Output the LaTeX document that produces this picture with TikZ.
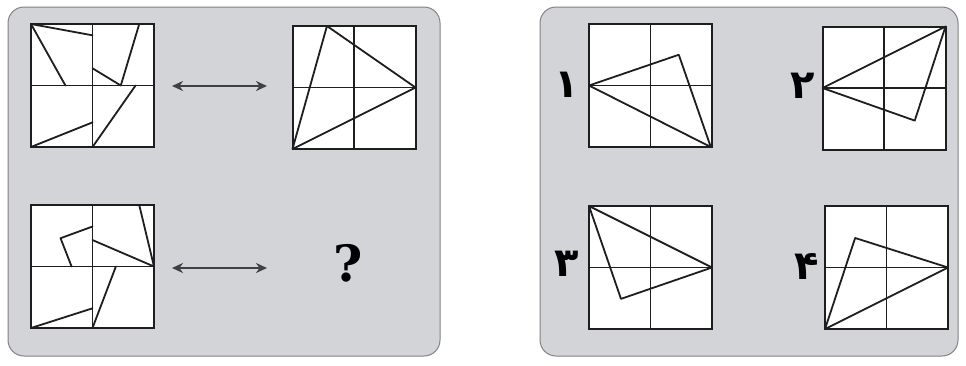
\documentclass[tikz,border=0pt]{standalone}
\usepackage{fontspec}
\newfontfamily\numfont[Script=Arabic]{DejaVu Sans}
\newfontfamily\qfont{DejaVu Serif}
\usetikzlibrary{arrows.meta}
\definecolor{panelfill}{RGB}{211,212,215}
\definecolor{panelline}{RGB}{130,130,132}
\definecolor{ink}{RGB}{30,30,30}
\tikzset{
  panel/.style={draw=panelline, line width=1pt, fill=panelfill, rounded corners=16pt},
  sqbox/.style={draw=ink, fill=white, line width=2pt},
  gridln/.style={draw=ink, line width=1.6pt},
  shp/.style={draw=ink, line width=1.8pt, line join=round, line cap=round},
  dblarrow/.style={draw=ink!85, line width=2.2pt, {Stealth[length=11pt,width=10pt]}-{Stealth[length=11pt,width=10pt]}},
  numlbl/.style={font=\numfont\bfseries\fontsize{40}{40}\selectfont, inner sep=0pt, text=black},
  qlbl/.style={font=\qfont\bfseries\fontsize{50}{50}\selectfont, inner sep=0pt, text=black}
}
\newcommand\figsq[3]{%
  \begin{scope}[shift={(#1,#2)}, x=123pt, y=-123pt]
    \draw[sqbox] (0,0) rectangle (1,1);
    \draw[gridln] (0.5,0) -- (0.5,1) (0,0.5) -- (1,0.5);
    #3
  \end{scope}}
\begin{document}
\begin{tikzpicture}[x=1pt,y=-1pt]
\useasboundingbox (0,0) rectangle (966,365);
\fill[white] (0,0) rectangle (966,365);
\draw[panel] (8,7) rectangle (440,356);
\draw[panel] (540,7) rectangle (958,356);

% top-left
\figsq{31}{24}{%
  \draw[shp] (0,0) -- (0.5,0.092);
  \draw[shp] (0,0) -- (0.28,0.5);
  \draw[shp] (0.88,0) -- (0.73,0.5) -- (0.5,0.36);
  \draw[shp] (0.85,0.5) -- (0.5,1);
  \draw[shp] (0,1) -- (0.5,0.8);
}
% top-right
\figsq{292.5}{26}{%
  \draw[shp] (0.28,0) -- (1,0.5) -- (0,1) -- cycle;
}
% bottom-left
\figsq{31}{205}{%
  \draw[shp] (0.5,0.175) -- (0.24,0.27) -- (0.33,0.5);
  \draw[shp] (0.88,0) -- (1,0.5) -- (0.5,0.285);
  \draw[shp] (0.69,0.5) -- (0.5,1);
  \draw[shp] (0,1) -- (0.5,0.84);
}
% arrows
\coordinate (a1l) at (172,86);
\coordinate (a1r) at (267,86);
\coordinate (a2l) at (172,268);
\coordinate (a2r) at (267,268);
\draw[dblarrow] (a1l) -- (a1r);
\draw[dblarrow] (a2l) -- (a2r);
\node[qlbl] (q) at (348,263) {?};

% right panel
\figsq{589}{24}{%
  \draw[shp] (0,0.5) -- (0.73,0.25) -- (0.99,1) -- cycle;
}
\figsq{822.5}{26.5}{%
  \draw[shp] (0,0.5) -- (1,0) -- (0.75,0.765) -- cycle;
}
\figsq{589}{206}{%
  \draw[shp] (0,0) -- (1,0.5) -- (0.26,0.755) -- cycle;
}
\figsq{825}{206}{%
  \draw[shp] (0,1) -- (0.245,0.26) -- (1,0.5) -- cycle;
}
\node[numlbl] (n1) at (567,85) {۱};
\node[numlbl] (n2) at (803,86) {۲};
\node[numlbl] (n3) at (567,264) {۳};
\node[numlbl] (n4) at (807,266) {۴};
\end{tikzpicture}
\end{document}
